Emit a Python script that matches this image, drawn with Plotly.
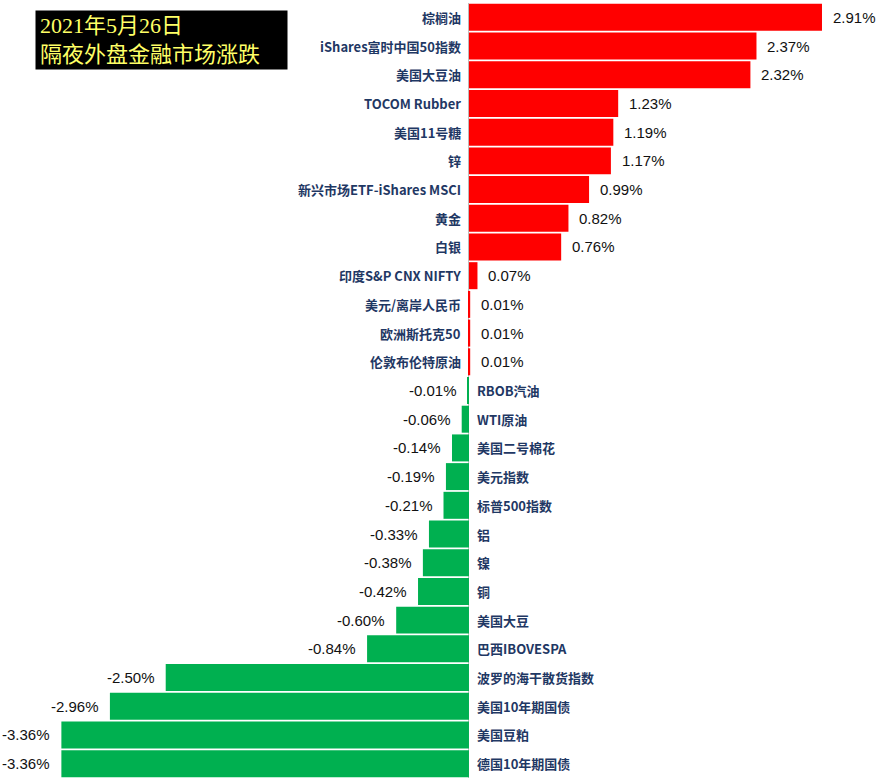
import plotly.graph_objects as go

categories = [
    "棕榈油", "iShares富时中国50指数", "美国大豆油", "TOCOM Rubber", "美国11号糖", "锌",
    "新兴市场ETF-iShares MSCI", "黄金", "白银", "印度S&P CNX NIFTY", "美元/离岸人民币",
    "欧洲斯托克50", "伦敦布伦特原油", "RBOB汽油", "WTI原油", "美国二号棉花", "美元指数",
    "标普500指数", "铝", "镍", "铜", "美国大豆", "巴西IBOVESPA", "波罗的海干散货指数",
    "美国10年期国债", "美国豆粕", "德国10年期国债",
]
changes = [
    2.91, 2.37, 2.32, 1.23, 1.19, 1.17, 0.99, 0.82, 0.76, 0.07, 0.01, 0.01, 0.01,
    -0.01, -0.06, -0.14, -0.19, -0.21, -0.33, -0.38, -0.42, -0.60, -0.84, -2.50,
    -2.96, -3.36, -3.36,
]
title_lines = ["2021年5月26日", "隔夜外盘金融市场涨跌"]

RED = "#FF0000"
GREEN = "#00B050"
NAVY = "#1F3864"
cat_font = dict(family="Noto Sans CJK SC, Liberation Sans, sans-serif", size=13, color=NAVY)
val_font = dict(family="Liberation Sans, Arial, sans-serif", size=15, color="#111111")

colors = [RED if v > 0 else GREEN for v in changes]

fig = go.Figure(go.Bar(
    x=changes, y=categories, orientation="h",
    marker=dict(color=colors, line=dict(width=0)),
    hoverinfo="skip",
))

annotations = []
for c, v in zip(categories, changes):
    pos = v > 0
    annotations.append(dict(
        x=0, y=c, xref="x", yref="y", text="<b>%s</b>" % c, showarrow=False,
        xanchor="right" if pos else "left", xshift=-6 if pos else 6,
        font=cat_font,
    ))
    annotations.append(dict(
        x=v, y=c, xref="x", yref="y", text="%.2f%%" % v, showarrow=False,
        xanchor="left" if pos else "right", xshift=9 if pos else -9,
        font=val_font,
    ))

annotations.append(dict(
    xref="paper", yref="paper", x=35 / 879, y=1 - (10 - 3) / 775,
    xanchor="left", yanchor="top", showarrow=False,
    text="<br>".join(title_lines), align="left", valign="middle",
    bgcolor="#000000", width=243, height=50, borderpad=4,
    font=dict(family="Liberation Serif, Noto Sans CJK SC, serif", size=22, color="#FFFF66"),
))

fig.update_layout(
    width=879, height=780,
    margin=dict(l=0, r=0, t=3, b=2),
    paper_bgcolor="white", plot_bgcolor="white",
    bargap=0.06,
    showlegend=False,
    annotations=annotations,
    xaxis=dict(range=[-3.866, 3.380], visible=True, showgrid=False, showticklabels=False,
               ticks="", zeroline=True, zerolinecolor="#BFBFBF", zerolinewidth=1,
               showline=False, fixedrange=True),
    yaxis=dict(autorange="reversed", showticklabels=False, showgrid=False, ticks="",
               showline=False, zeroline=False, fixedrange=True),
)

fig.write_html(
    "out.html",
    config={"displayModeBar": False},
    post_script="document.body.style.margin='0';document.body.style.overflow='hidden';",
)
